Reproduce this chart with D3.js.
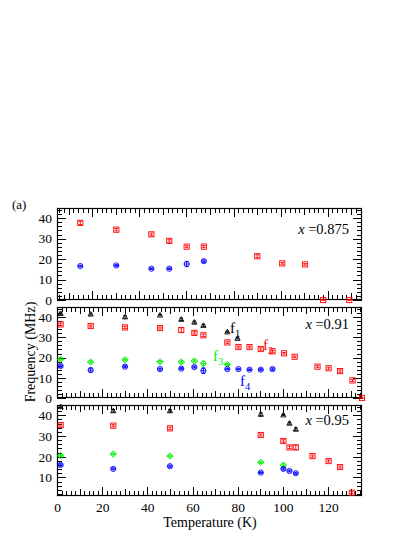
<!DOCTYPE html>
<html><head><meta charset="utf-8">
<script src="https://cdn.jsdelivr.net/npm/d3@7"></script>
<style>body{margin:0;background:#fff}svg{display:block}
svg text{font-family:"Liberation Serif","Times New Roman","DejaVu Serif",serif !important;}</style>
</head><body>
<svg id="c" width="415" height="537"></svg>
<script>
// ---- data ----
const xTickLabels = [0, 20, 40, 60, 80, 100, 120];
const yTickLabels = [0, 10, 20, 30, 40];
const panelLabels = ["0.875", "0.91", "0.95"];

// panel 1 (x = 0.875)
const p1RedT = [14.9, 30.2, 45.1, 52.7, 60.1, 67.4, 90.1, 100.7, 110.4, 118.1, 129.2];
const p1RedV = [37.7, 34.4, 32.1, 28.9, 26.1, 26.1, 21.4, 17.9, 17.4, 0, 0];
const p1RedE = [0.8, 0.6, 0.6, 0.6, 0.5, 0.5, 0.7, 0.4, 0.4, 0.3, 0.3];
const p1BlueT = [14.9, 30.2, 45.1, 52.7, 60.1, 67.4];
const p1BlueV = [16.6, 16.9, 15.3, 15.3, 17.6, 19.0];
const p1BlueE = [0.4, 0.4, 0.4, 0.4, 1.3, 0.6];

// panel 2 (x = 0.91)
const p2BlackT = [1.6, 14.9, 30.1, 45.6, 55, 60.8, 64.8, 75.4, 79.9];
const p2BlackV = [41.8, 41.5, 40.1, 41.0, 38.9, 37.5, 35.9, 32.7, 29.5];
const p2BlackE = [0.6, 0.5, 0.6, 0.3, 0.6, 0.5, 0.5, 0.4, 0.3];
const p2RedT = [1.6, 14.9, 30.1, 45.6, 55, 60.8, 64.8, 75.4, 80.3, 85.2, 90.2, 95.4, 100.5, 105.2, 115.3, 120.2, 125.3, 130.8, 135];
const p2RedV = [36.4, 35.6, 34.9, 34.6, 33.6, 32.2, 31.0, 27.5, 25.2, 25.2, 24.2, 23.1, 22.1, 20.4, 15.5, 14.7, 13.3, 8.7, 0];
const p2RedE = [0.6, 0.5, 0.5, 0.5, 1.1, 0.6, 0.6, 0.5, 0.5, 0.5, 0.6, 0.5, 0.4, 0.4, 0.5, 0.5, 0.6, 0.5, 0.3];
const p2GreenT = [1.6, 14.9, 30.1, 45.6, 55, 60.8, 64.8, 75.4];
const p2GreenV = [19.1, 17.8, 18.9, 17.9, 17.8, 18.3, 17.1, 16.6];
const p2GreenE = [0.8, 0.6, 0.6, 0.6, 0.6, 0.6, 1.0, 0.5];
const p2BlueT = [1.6, 14.9, 30.1, 45.6, 55, 60.8, 64.8, 75.4, 80.3, 85.2, 90.2, 95.4];
const p2BlueV = [15.8, 13.8, 15.5, 14.3, 14.5, 15.3, 13.5, 14.3, 14.3, 14.0, 14.0, 14.3];
const p2BlueE = [0.6, 1.0, 0.5, 0.5, 0.5, 0.5, 1.4, 0.4, 0.4, 0.4, 0.5, 0.6];

// panel 3 (x = 0.95)
const p3BlackT = [1.6, 24.9, 50, 90.2, 100.2, 102.9, 105.7];
const p3BlackV = [44.2, 42.2, 42.2, 40.5, 40.2, 36.2, 33.3];
const p3BlackE = [0.5, 0.6, 0.6, 0.7, 0.3, 0.5, 0.6];
const p3RedT = [1.6, 24.9, 50, 90.2, 100.2, 102.9, 105.7, 113.1, 120.2, 125.3, 130.5];
const p3RedV = [35.3, 35.0, 33.7, 30.5, 27.6, 24.5, 24.5, 20.3, 17.9, 15.0, 2.6];
const p3RedE = [0.5, 0.5, 0.6, 0.5, 0.6, 0.6, 1.1, 0.5, 0.5, 0.5, 0.5];
const p3GreenT = [1.6, 24.9, 50, 90.2, 100.2];
const p3GreenV = [20.5, 21.3, 20.3, 17.3, 15.9];
const p3GreenE = [0.5, 0.5, 0.5, 0.6, 0.7];
const p3BlueT = [1.6, 24.9, 50, 90.2, 100.2, 102.9, 105.7];
const p3BlueV = [16.0, 14.1, 15.4, 12.3, 14.1, 13.1, 12.0];
const p3BlueE = [0.6, 0.5, 0.5, 0.4, 0.6, 0.5, 0.5];

// ---- layout ----
const svg = d3.select("#c");
const L = 57, R = 362;
const FONT = "Liberation Serif, Times New Roman, DejaVu Serif, serif";
const RED = "#ff0000", BLUE = "#0000ff", GREEN = "#00ee00", BLACK = "#000000";

const panels = [
  { top: 208, bottom: 300, xd: [5, 134.6], yd: [0, 45], yl: [0, 10, 20, 30, 40], lab: panelLabels[0], labY: 234,
    series: [
      { t: p1RedT, v: p1RedV, e: p1RedE, c: RED, s: "square" },
      { t: p1BlueT, v: p1BlueV, e: p1BlueE, c: BLUE, s: "circle" }] },
  { top: 307, bottom: 398, xd: [0, 135], yd: [0, 45], yl: [0, 10, 20, 30, 40], lab: panelLabels[1], labY: 329,
    series: [
      { t: p2BlackT, v: p2BlackV, e: p2BlackE, c: BLACK, s: "triangle" },
      { t: p2RedT, v: p2RedV, e: p2RedE, c: RED, s: "square" },
      { t: p2GreenT, v: p2GreenV, e: p2GreenE, c: GREEN, s: "diamond" },
      { t: p2BlueT, v: p2BlueV, e: p2BlueE, c: BLUE, s: "circle" }] },
  { top: 405, bottom: 496, xd: [0, 135], yd: [1, 45], yl: [10, 20, 30, 40], lab: panelLabels[2], labY: 425,
    series: [
      { t: p3BlackT, v: p3BlackV, e: p3BlackE, c: BLACK, s: "triangle" },
      { t: p3RedT, v: p3RedV, e: p3RedE, c: RED, s: "square" },
      { t: p3GreenT, v: p3GreenV, e: p3GreenE, c: GREEN, s: "diamond" },
      { t: p3BlueT, v: p3BlueV, e: p3BlueE, c: BLUE, s: "circle" }] }
];

panels.forEach((p, pi) => {
  const x = d3.scaleLinear().domain(p.xd).range([L, R]);
  const y = d3.scaleLinear().domain(p.yd).range([p.bottom, p.top]);
  const g = svg.append("g");
  const H = p.bottom - p.top;

  const xMinor = d3.range(Math.ceil(p.xd[0] / 2) * 2, p.xd[1] + 0.001, 2);
  const xlen = v => (v % 20 === 0 ? 9 : (v % 10 === 0 ? 7 : 5));
  const xt = g.append("g").attr("stroke", "#000").attr("stroke-width", 1);
  xMinor.forEach(v => {
    const px = Math.round(x(v)) + 0.5;
    xt.append("line").attr("x1", px).attr("x2", px).attr("y1", p.bottom).attr("y2", p.bottom - xlen(v));
    xt.append("line").attr("x1", px).attr("x2", px).attr("y1", p.top).attr("y2", p.top + xlen(v));
  });
  const yMinor = d3.range(Math.ceil(p.yd[0] / 2) * 2, p.yd[1] + 0.001, 2);
  yMinor.forEach(v => {
    const py = Math.round(y(v)) + 0.5;
    const len = v % 10 === 0 ? 9 : 5;
    xt.append("line").attr("x1", L).attr("x2", L + len).attr("y1", py).attr("y2", py);
    xt.append("line").attr("x1", R).attr("x2", R - len).attr("y1", py).attr("y2", py);
  });
  g.append("rect").attr("x", L + 0.5).attr("y", p.top + 0.5).attr("width", R - L - 1).attr("height", H - 1)
    .attr("fill", "none").attr("stroke", "#000").attr("stroke-width", 1.2);

  const ya = d3.axisLeft(y).tickValues(p.yl).tickSize(0).tickPadding(5).tickFormat(d3.format("d"));
  const yg = g.append("g").attr("transform", `translate(${L},0)`).call(ya);
  yg.attr("font-family", FONT).attr("font-size", 13.5);
  yg.select(".domain").remove();
  yg.selectAll("text").attr("fill", "#000");

  if (pi === 2) {
    const xa = d3.axisBottom(x).tickValues(xTickLabels).tickSize(0).tickPadding(6).tickFormat(d3.format("d"));
    const xg = g.append("g").attr("transform", `translate(0,${p.bottom})`).call(xa);
    xg.attr("font-family", FONT).attr("font-size", 13.5);
    xg.select(".domain").remove();
    xg.selectAll("text").attr("fill", "#000");
  }

  const tl = g.append("text").attr("x", R - 13).attr("y", p.labY).attr("text-anchor", "end")
    .attr("font-family", FONT).attr("font-size", 14.5);
  tl.append("tspan").attr("font-style", "italic").text("x");
  tl.append("tspan").text(" =" + p.lab);

  const clipId = "clip" + pi;
  svg.append("clipPath").attr("id", clipId).append("rect")
    .attr("x", L - 6).attr("y", p.top - 6).attr("width", R - L + 12).attr("height", H + 12);
  const mg = g.append("g").attr("clip-path", `url(#${clipId})`);
  p.series.forEach(s => {
    s.t.forEach((t, i) => {
      const cx = x(t), cy = y(s.v[i]);
      const e = s.e[i];
      const y1 = y(s.v[i] + e), y2 = y(s.v[i] - e);
      const m = mg.append("g").attr("stroke", s.c).attr("fill", "none").attr("stroke-width", 0.9);
      m.append("line").attr("x1", cx).attr("x2", cx).attr("y1", y1).attr("y2", y2);
      m.append("line").attr("x1", cx - 1.8).attr("x2", cx + 1.8).attr("y1", y1).attr("y2", y1);
      m.append("line").attr("x1", cx - 1.8).attr("x2", cx + 1.8).attr("y1", y2).attr("y2", y2);
      if (s.s === "square") {
        m.append("rect").attr("x", cx - 2.6).attr("y", cy - 2.6).attr("width", 5.2).attr("height", 5.2);
      } else if (s.s === "circle") {
        m.append("circle").attr("cx", cx).attr("cy", cy).attr("r", 2.6);
        m.append("line").attr("x1", cx - 2.6).attr("x2", cx + 2.6).attr("y1", cy).attr("y2", cy);
      } else if (s.s === "diamond") {
        m.append("path").attr("d", `M${cx},${cy - 3.2}L${cx + 3.2},${cy}L${cx},${cy + 3.2}L${cx - 3.2},${cy}Z`);
        m.append("line").attr("x1", cx - 3.2).attr("x2", cx + 3.2).attr("y1", cy).attr("y2", cy);
      } else if (s.s === "triangle") {
        m.append("path").attr("d", `M${cx},${cy - 2.6}L${cx + 2.6},${cy + 2}L${cx - 2.6},${cy + 2}Z`);
      }
    });
  });
});

const fl = [
  { t: "f", sub: "1", x: 230, y: 333, c: BLACK },
  { t: "f", sub: "2", x: 263, y: 350, c: RED },
  { t: "f", sub: "3", x: 213, y: 361, c: GREEN },
  { t: "f", sub: "4", x: 240, y: 386, c: BLUE }
];
fl.forEach(f => {
  const t = svg.append("text").attr("x", f.x).attr("y", f.y).attr("fill", f.c)
    .attr("font-family", FONT).attr("font-size", 15);
  t.append("tspan").text(f.t);
  t.append("tspan").attr("dy", 4).attr("font-size", 10.5).text(f.sub);
});

svg.append("text").attr("x", 210).attr("y", 527).attr("text-anchor", "middle")
  .attr("font-family", FONT).attr("font-size", 14).text("Temperature (K)");
svg.append("text").attr("transform", "translate(35,352) rotate(-90)").attr("text-anchor", "middle")
  .attr("font-family", FONT).attr("font-size", 14).text("Frequency (MHz)");
svg.append("text").attr("x", 12).attr("y", 209).attr("font-family", FONT).attr("font-size", 13).text("(a)");
</script>
</body></html>
